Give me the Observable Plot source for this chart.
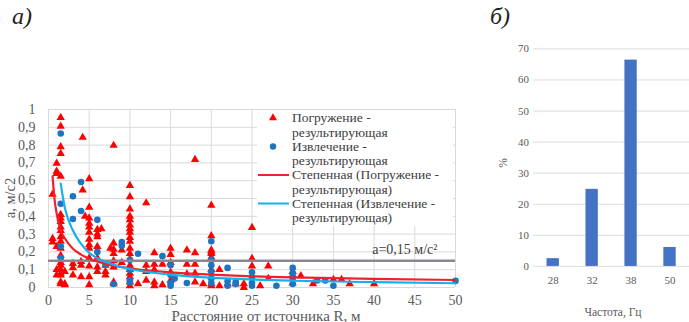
<!DOCTYPE html>
<html><head><meta charset="utf-8">
<script src="https://cdn.jsdelivr.net/npm/d3@7"></script>
<script src="https://cdn.jsdelivr.net/npm/@observablehq/plot@0.6"></script>
<style>
html,body{margin:0;padding:0;background:#fff;overflow:hidden;}
#wrap{position:relative;width:689px;height:322px;font-family:"Liberation Serif","DejaVu Serif","Times New Roman",serif;color:#595959;}
.abs{position:absolute;white-space:nowrap;line-height:1;}
#pa,#pb{position:absolute;top:0;}
#pa{left:0;} #pb{left:500px;}
svg text{font-family:"Liberation Serif","DejaVu Serif","Times New Roman",serif;}
</style></head><body><div id="wrap"><div id="pa"></div><div id="pb"></div></div>
<script>
// ---- Panel a: scatter (R, a) ----
const immersionPoints = [
  [0.5,0.524],[0.5,0.275],[0.5,0.255],
  [1,0.697],[1,0.653],[1,0.64],[1,0.23],[1,0.1],[1,0.07],
  [1.5,0.955],[1.5,0.906],[1.5,0.79],[1.5,0.753],[1.5,0.625],[1.5,0.41],[1.5,0.39],[1.5,0.37],[1.5,0.34],[1.5,0.32],[1.5,0.285],[1.5,0.26],[1.5,0.22],[1.5,0.18],[1.5,0.14],[1.5,0.125],[1.5,0.1],[1.5,0.08],[1.5,0.07],[1.5,0.03],[1.5,0.02],
  [2,0.09],[2,0.02],[2,0.015],
  [3,0.135],[3,0.11],[3,0.07],
  [4,0.145],[4,0.125],[4,0.06],
  [4.2,0.843],[4.2,0.547],[4.5,0.4],
  [5,0.61],[5,0.45],[5,0.39],[5,0.36],[5,0.34],[5,0.31],[5,0.27],[5,0.24],[5,0.22],[5,0.165],[5,0.12],[5,0.06],[5,0.015],
  [6,0.325],[6,0.3],[6,0.285],[6,0.23],[6,0.165],[6,0.115],[6,0.09],[6.5,0.33],
  [7,0.125],[7,0.09],[7,0.07],[7.6,0.22],
  [8,0.798],[8,0.25],[8,0.215],[8,0.19],[8,0.15],[8,0.115],[8,0.03],[8,0.02],
  [9,0.21],[9,0.14],
  [10,0.573],[10,0.51],[10,0.44],[10,0.4],[10,0.38],[10,0.35],[10,0.33],[10,0.31],[10,0.28],[10,0.26],[10,0.22],[10,0.19],[10,0.16],[10,0.125],[10,0.1],[10,0.08],[10,0.06],[10,0.03],[10,0.01],
  [11,0.02],
  [12,0.475],[12,0.125],[12,0.09],[12,0.04],
  [13,0.195],[13,0.13],[13,0.1],[13,0.03],[13,0.01],
  [14,0.13],[14,0.015],
  [15,0.22],[15,0.185],[15,0.14],[15,0.085],[15,0.04],
  [17,0.21],[17,0.13],[17,0.075],
  [18,0.719],[18,0.195],[18,0.13],[18,0.08],[18,0.03],
  [19,0.02],
  [20,0.462],[20,0.29],[20,0.21],[20,0.2],[20,0.19],[20,0.17],[20,0.1],[20,0.06],[20,0.02],[20,0.01],
  [21,0.1],[21,0.01],[22,0.02],[23,0.02],[24,0.0],[24,0.02],
  [25,0.337],[25,0.163],[25,0.12],[26,0.01],
  [27,0.12],[27,0.05],
  [30,0.09],[30,0.07],[30,0.025],[31,0.065],[32.5,0.02],
  [35,0.045],[36,0.045],[37,0.02],[40,0.02]
];
const extractionPoints = [
  [1.5,0.865],[1.5,0.47],[1.5,0.232],[1.5,0.166],
  [3,0.513],[3,0.385],[4,0.593],[4,0.43],
  [6,0.38],[6,0.2],[7,0.13],[8,0.02],
  [9,0.256],[9,0.235],
  [10,0.155],[10,0.1],[10,0.04],[10,0.03],
  [11,0.19],[14,0.176],
  [15,0.125],[15,0.07],[15,0.025],[15,0.01],[15.5,0.05],[17,0.025],
  [20,0.26],[20,0.155],[20,0.125],[20,0.09],[20,0.05],[20,0.025],
  [22,0.11],[22,0.035],[22,0.01],[23,0.03],[23,0.02],
  [25,0.085],[25,0.055],[25,0.025],[25,0.01],[28,0.01],
  [30,0.11],[30,0.08],[30,0.05],[30,0.02],
  [33,0.04],[34,0.04],[35,0.01],[50,0.037]
];
// power trendlines, values
const trendImmR = [0.5,0.75,1,1.5,2,3,4,5,7,10,15,20,25,30,40,50];
const trendImmA = [0.625,0.493,0.416,0.32,0.277,0.218,0.185,0.162,0.133,0.108,0.085,0.072,0.063,0.057,0.048,0.042];
const trendExtR = [1.5,2,3,4,5,7,10,15,20,25,30,40,50];
const trendExtA = [0.584,0.449,0.32,0.245,0.195,0.144,0.104,0.072,0.055,0.045,0.038,0.03,0.024];
const thresholdA = 0.15;
const thresholdLabel = "a=0,15 м/с²";
const xTicksA = [0,5,10,15,20,25,30,35,40,45,50];
const yTicksA = [0,0.1,0.2,0.3,0.4,0.5,0.6,0.7,0.8,0.9,1];
const legendLabels = ["Погружение -","результирующая","Извлечение -","результирующая","Степенная (Погружение -","результирующая)","Степенная (Извлечение -","результирующая)"];

// ---- Panel b: frequency distribution ----
const freqCats = ["28","32","38","50"];
const freqShare = [2.5, 24.8, 66.4, 6.1];
const yTicksB = [0,10,20,30,40,50,60,70];

const SERIF = "'Liberation Serif','DejaVu Serif','Times New Roman',serif";
const RED = "#ff0000", BLUE = "#1f74c0", RLINE = "#f2202a", BLINE = "#14b1ee", GREY = "#8c8691";
const imm = immersionPoints.map(([R,a]) => ({R, a}));
const ext = extractionPoints.map(([R,a]) => ({R, a}));
const tImm = trendImmR.map((R,i) => ({R, a: trendImmA[i]}));
const tExt = trendExtR.map((R,i) => ({R, a: trendExtA[i]}));

const plotA = Plot.plot({
  width: 470, height: 322,
  marginLeft: 48, marginRight: 15, marginTop: 109, marginBottom: 35,
  style: {fontFamily: SERIF, fontSize: "14px", color: "#595959", background: "transparent", overflow: "visible"},
  x: {domain: [0, 50]},
  y: {domain: [0, 1]},
  marks: [
    Plot.gridX(xTicksA, {stroke: "#d9d9d9", strokeOpacity: 1}),
    Plot.gridY(yTicksA, {stroke: "#d9d9d9", strokeOpacity: 1}),
    Plot.axisX(xTicksA, {tickSize: 0, tickPadding: 8, label: null, fill: "#595959"}),
    Plot.axisY(yTicksA, {tickSize: 0, tickPadding: 13, label: null, fill: "#595959", tickFormat: d => String(d).replace(".", ",")}),
    Plot.dot(imm, {x: "R", y: "a", symbol: "triangle", r: 3.1, fill: RED, stroke: "none"}),
    Plot.dot(ext, {x: "R", y: "a", symbol: "circle", r: 3.3, fill: BLUE, stroke: "none"}),
    Plot.ruleY([thresholdA], {stroke: GREY, strokeWidth: 2.6}),
    Plot.line(tImm, {x: "R", y: "a", stroke: RLINE, strokeWidth: 2.2, curve: "monotone-x"}),
    Plot.line(tExt, {x: "R", y: "a", stroke: BLINE, strokeWidth: 2.2, curve: "monotone-x"}),
    Plot.text([{a: thresholdA, label: thresholdLabel}], {y: "a", text: "label", frameAnchor: "right", textAnchor: "end", dx: -18, dy: -11, fill: "#404040", fontSize: 14})
  ]
});
document.getElementById("pa").appendChild(plotA);

const bars = freqCats.map((f,i) => ({f, v: freqShare[i]}));
const plotB = Plot.plot({
  width: 199, height: 322,
  marginLeft: 35, marginRight: 0, marginTop: 51, marginBottom: 42,
  style: {fontFamily: SERIF, fontSize: "11.5px", color: "#595959", background: "transparent"},
  x: {domain: freqCats, paddingInner: 0.69, paddingOuter: 0.345},
  y: {domain: [0, 70]},
  marks: [
    Plot.gridY(yTicksB, {stroke: "#d9d9d9", strokeOpacity: 1}),
    Plot.axisY(yTicksB, {tickSize: 0, tickPadding: 5, label: null, fill: "#595959"}),
    Plot.axisX({tickSize: 0, tickPadding: 10, label: null, fill: "#595959"}),
    Plot.barY(bars, {x: "f", y: "v", fill: "#4472c4"})
  ]
});
document.getElementById("pb").appendChild(plotB);

// ---- HTML text and legend ----
const wrap = document.getElementById("wrap");
function addText(txt, x, y, css) {
  const d = document.createElement("div");
  d.className = "abs"; d.textContent = txt;
  d.style.left = x + "px"; d.style.top = y + "px";
  Object.assign(d.style, css || {});
  wrap.appendChild(d);
  return d;
}
addText("a)", 12, 4, {fontSize: "24px", fontStyle: "italic", color: "#222"});
addText("б)", 490, 4, {fontSize: "24px", fontStyle: "italic", color: "#222"});
addText("a, м/с2", 10, 198, {fontSize: "14.5px", transform: "translate(-50%,-50%) rotate(-90deg)"});
addText("Расстояние от источника R, м", 266, 316, {fontSize: "15px", transform: "translate(-50%,-50%)"});
addText("%", 504, 163, {fontSize: "11.5px", transform: "translate(-50%,-50%) rotate(-90deg)"});
addText("Частота, Гц", 613, 313, {fontSize: "11.5px", transform: "translate(-50%,-50%)"});

const lg = document.createElement("div");
lg.style.cssText = "position:absolute;left:257px;top:110px;width:196px;height:116px;background:#fff;";
wrap.appendChild(lg);
const lineYs = [118, 132.5, 146.5, 161, 175, 189.5, 203.5, 218];
legendLabels.forEach((t,i) => addText(t, 292, lineYs[i], {fontSize: "13.5px", color: "#404040", transform: "translateY(-50%)"}));
const ns = "http://www.w3.org/2000/svg";
const ls = document.createElementNS(ns, "svg");
ls.setAttribute("width", 40); ls.setAttribute("height", 116);
ls.style.cssText = "position:absolute;left:255px;top:110px;";
ls.innerHTML =
  `<path d="${d3.symbol(d3.symbolTriangle, Math.PI*9)()}" transform="translate(18,8)" fill="${RED}"/>` +
  `<circle cx="18" cy="36.5" r="3.2" fill="${BLUE}"/>` +
  `<line x1="3" x2="34" y1="65" y2="65" stroke="${RLINE}" stroke-width="2"/>` +
  `<line x1="3" x2="34" y1="93.5" y2="93.5" stroke="${BLINE}" stroke-width="2"/>`;
wrap.appendChild(ls);
</script></body></html>
